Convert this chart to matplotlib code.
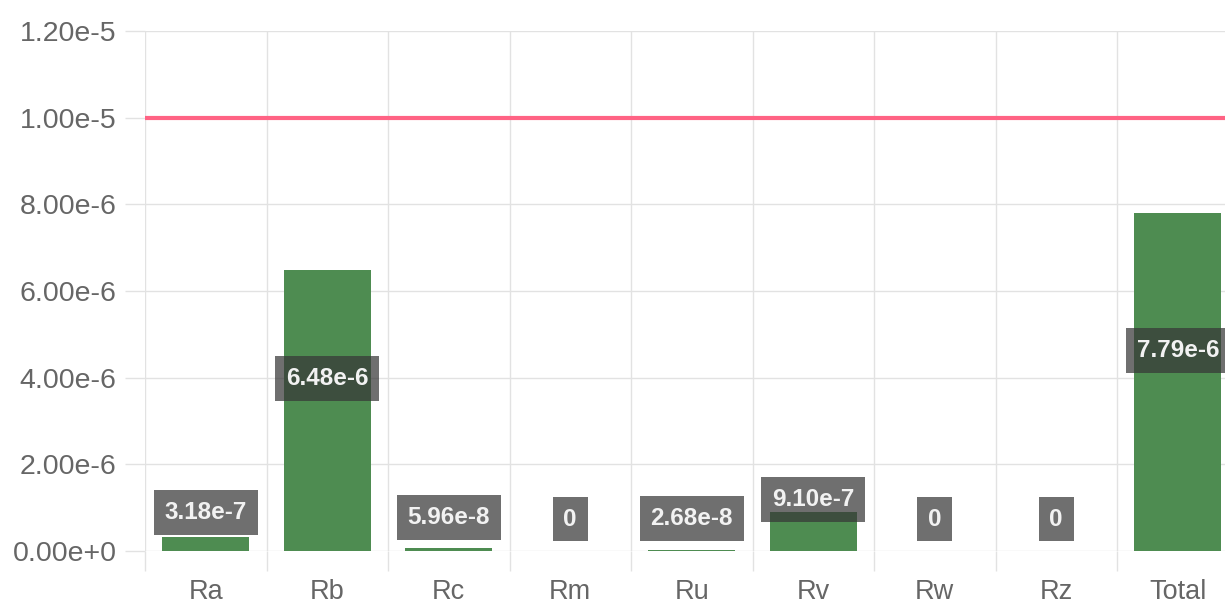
import numpy as np
import matplotlib
matplotlib.use('Agg')
import matplotlib.pyplot as plt

plt.rcParams['font.family'] = ['Liberation Sans', 'DejaVu Sans']

# Chart data
categories = ['Ra', 'Rb', 'Rc', 'Rm', 'Ru', 'Rv', 'Rw', 'Rz', 'Total']
values = [3.18e-7, 6.48e-6, 5.96e-8, 0, 2.68e-8, 9.10e-7, 0, 0, 7.79e-6]
limit = 1.0e-5
y_ticks = [0, 2e-6, 4e-6, 6e-6, 8e-6, 1.0e-5, 1.2e-5]


def js_exp(v):
    # mimic JavaScript toExponential(2): 3.18e-7, 0.00e+0
    m, e = f"{v:.2e}".split('e')
    return f"{m}e{int(e):+d}"


grid_col = '#e2e2e2'
bar_col = '#4e8c51'

fig = plt.figure(figsize=(12.25, 6.06), dpi=100)
ax = fig.add_axes([145 / 1225, 55 / 606, 1093.5 / 1225, 520 / 606])

x = np.arange(len(categories))
ax.bar(x, values, width=0.72, color=bar_col, linewidth=0, zorder=2)
ax.axhline(limit, color='#ff6384', lw=3, zorder=3)

ax.set_xlim(-0.5, len(categories) - 0.5)
ax.set_ylim(0, 1.2e-5)

# grid lines sit between categories, labels in the middle
ax.set_xticks(np.arange(-0.5, len(categories), 1.0))
ax.set_xticklabels([])
ax.set_xticks(x, minor=True)
ax.set_xticklabels(categories, minor=True)
ax.tick_params(axis='x', which='major', length=14.4, color=grid_col, width=1)
ax.tick_params(axis='x', which='minor', length=0, pad=20, labelsize=19.5, labelcolor='#666666')

ax.set_yticks(y_ticks)
ax.set_yticklabels([js_exp(t) for t in y_ticks])
ax.tick_params(axis='y', length=14.4, color=grid_col, width=1, pad=6, labelsize=20.5,
               labelcolor='#666666')

ax.grid(True, which='major', color=grid_col, lw=1, zorder=0)
ax.set_axisbelow(True)
for s in ax.spines.values():
    s.set_visible(False)

# value labels in dark translucent boxes
for xi, v in zip(x, values):
    txt = '0' if v == 0 else js_exp(v)
    ax.annotate(txt, (xi, v / 2), xytext=(0, 32), textcoords='offset pixels',
                ha='center', va='center', fontsize=17.5, fontweight='bold', color='#f2f2f2',
                bbox=dict(boxstyle='square,pad=0.45', fc=(0.216, 0.216, 0.216, 0.72), ec='none'),
                zorder=5, annotation_clip=False)

fig.savefig('out.png', dpi=100)
